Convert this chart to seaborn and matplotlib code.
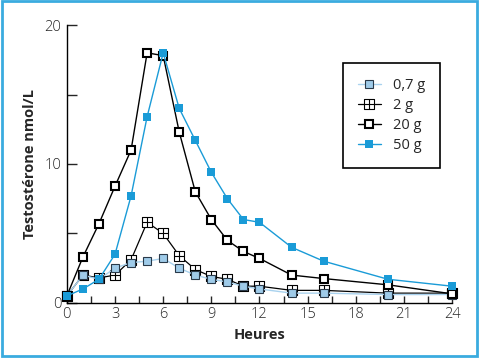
import numpy as np
import pandas as pd
import matplotlib
matplotlib.use("Agg")
import matplotlib.pyplot as plt
from matplotlib.path import Path
from matplotlib.patches import Rectangle
import seaborn as sns

sns.set_style("ticks")
plt.rcParams['font.family'] = ['Open Sans', 'DejaVu Sans']

# data
hours = [0, 1, 2, 3, 4, 5, 6, 7, 8, 9, 10, 11, 12, 14, 16, 20, 24]
dose_07 = [0.5, 2.0, 1.7, 2.5, 2.9, 3.0, 3.2, 2.5, 2.0, 1.7, 1.5, 1.2, 1.0, 0.7, 0.7, 0.6, 0.6]
dose_2 = [0.5, 2.0, 1.8, 2.0, 3.1, 5.8, 5.0, 3.4, 2.4, 1.9, 1.7, 1.2, 1.2, 0.9, 0.9, 0.7, 0.7]
dose_20 = [0.5, 3.3, 5.7, 8.4, 11.0, 18.0, 17.8, 12.3, 8.0, 6.0, 4.5, 3.7, 3.2, 2.0, 1.75, 1.3, 0.65]
dose_50 = [0.5, 1.0, 1.7, 3.5, 7.7, 13.4, 18.0, 14.0, 11.7, 9.4, 7.5, 6.0, 5.8, 4.0, 3.0, 1.7, 1.2]
labels = ["0,7 g", "2 g", "20 g", "50 g"]

df = pd.DataFrame({"Heures": hours * 4,
                   "val": dose_07 + dose_2 + dose_20 + dose_50,
                   "dose": np.repeat(labels, len(hours))})

# square with a cross inside (the "2 g" marker)
boxplus = Path([(-1, -1), (1, -1), (1, 1), (-1, 1), (-1, -1),
                (0, -1), (0, 1), (-1, 0), (1, 0)],
               [Path.MOVETO, Path.LINETO, Path.LINETO, Path.LINETO, Path.CLOSEPOLY,
                Path.MOVETO, Path.LINETO, Path.MOVETO, Path.LINETO])

blue = "#1a9bd7"
light = "#9fcbe9"
styles = {
    "0,7 g": dict(color="#a9d2ee", marker="s", markersize=6.3, markerfacecolor=light,
                  markeredgecolor="#2a3a4a", markeredgewidth=0.8, lw=1.0, zorder=3),
    "2 g": dict(color="black", marker=boxplus, markersize=6.8, markerfacecolor="white",
                markeredgecolor="black", markeredgewidth=0.8, lw=0.9, zorder=2),
    "20 g": dict(color="black", marker="s", markersize=6.0, markerfacecolor="white",
                 markeredgecolor="black", markeredgewidth=1.5, lw=1.0, zorder=4),
    "50 g": dict(color=blue, marker="s", markersize=5.5, markerfacecolor=blue,
                 markeredgecolor=blue, markeredgewidth=0, lw=1.0, zorder=5),
}

fig = plt.figure(figsize=(4.81, 3.58), dpi=100)
ax = fig.add_axes([0.139, 0.154, 0.801, 0.776])

for lab in labels:
    sub = df[df["dose"] == lab]
    sns.lineplot(data=sub, x="Heures", y="val", ax=ax, label=lab, clip_on=False, **styles[lab])

ax.set_xlim(0, 24)
ax.set_ylim(0, 20)
ax.set_xticks(range(0, 25, 3))
ax.set_xticks(np.arange(0, 24.1, 1.5), minor=True)
ax.set_yticks([0, 10, 20])
ax.set_yticks([5, 15], minor=True)
ax.tick_params(axis="x", which="both", direction="in", length=5, width=1, pad=3, labelsize=10.5)
ax.tick_params(axis="y", which="both", direction="in", length=7, width=1, pad=4, labelsize=10.5)
for t in ax.get_xticklabels() + ax.get_yticklabels():
    t.set_fontweight("light")
for s in ["top", "right"]:
    ax.spines[s].set_visible(False)
for s in ["left", "bottom"]:
    ax.spines[s].set_linewidth(1)
    ax.spines[s].set_color("black")
ax.set_facecolor("white")

ax.set_xlabel("Heures", fontweight="bold", fontsize=10.5, labelpad=4)
ax.set_ylabel("Testostérone nmol/L", fontweight="bold", fontsize=10.5, labelpad=5)

leg = ax.legend(loc="upper left", bbox_to_anchor=(0.717, 0.863), fontsize=10.5,
                frameon=True, fancybox=False, edgecolor="black", handlelength=1.6,
                borderpad=1.0, labelspacing=0.35, handletextpad=0.8, borderaxespad=0)
leg.get_frame().set_linewidth(1.2)
leg.get_frame().set_alpha(1)

# light blue border around the whole picture
fig.patches.append(Rectangle((0.004, 0.006), 0.987, 0.99, transform=fig.transFigure,
                             fill=False, edgecolor="#3aabdf", linewidth=2))

fig.savefig("out.png", dpi=100, facecolor="white")
